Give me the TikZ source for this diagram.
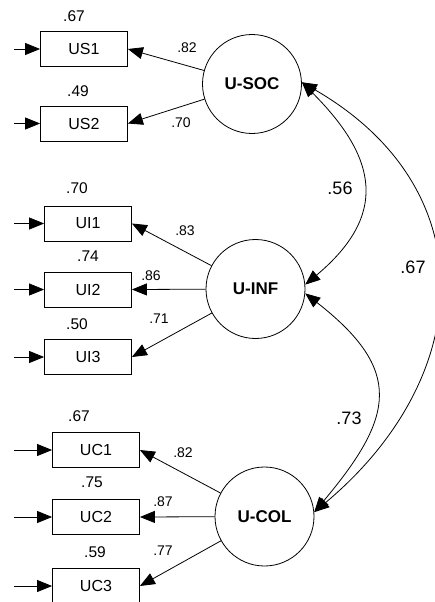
\documentclass[tikz,border=0pt]{standalone}
\usepackage{fontspec}
\setmainfont{Liberation Sans}
\usetikzlibrary{arrows.meta}
\begin{document}
\begin{tikzpicture}[x=1pt,y=1pt,
  every node/.style={inner sep=0pt},
  obs/.style={draw, line width=0.8pt, minimum width=87pt, minimum height=35pt, font=\fontsize{16}{18}\selectfont},
  lat/.style={draw, circle, line width=0.8pt, minimum size=99pt, font=\fontsize{17}{19}\selectfont\bfseries},
  rsq/.style={font=\fontsize{15.5}{17}\selectfont},
  lod/.style={font=\fontsize{14}{16}\selectfont},
  cov/.style={font=\fontsize{18}{20}\selectfont},
  arr/.style={line width=0.8pt, -{Triangle[length=15pt,width=12pt]}},
  darr/.style={line width=0.8pt, {Triangle[length=15pt,width=12pt]}-{Triangle[length=15pt,width=12pt]}}]
\clip (0,0) rectangle (435,-602);
\fill[white] (0,0) rectangle (435,-602);

% latent variables
\node[lat] (soc) at (252,-84) {U-SOC};
\node[lat] (inf) at (255.5,-289) {U-INF};
\node[lat] (col) at (264.5,-516.5) {U-COL};

% observed variables
\node[obs] (us1) at (84,-49) {US1};
\node[obs] (us2) at (84,-123.5) {US2};
\node[obs] (ui1) at (88,-223.5) {UI1};
\node[obs] (ui2) at (88,-289.5) {UI2};
\node[obs] (ui3) at (88,-357) {UI3};
\node[obs] (uc1) at (96,-450) {UC1};
\node[obs] (uc2) at (96,-517) {UC2};
\node[obs] (uc3) at (96,-586) {UC3};

% free ends of error arrows
\coordinate (e1) at (14,-49);
\coordinate (e2) at (14,-123.5);
\coordinate (e3) at (14,-223.5);
\coordinate (e4) at (14,-289.5);
\coordinate (e5) at (14,-357);
\coordinate (e6) at (14,-450);
\coordinate (e7) at (14,-517);
\coordinate (e8) at (14,-586);

\draw[arr] (e1) -- (us1.west);
\draw[arr] (e2) -- (us2.west);
\draw[arr] (e3) -- (ui1.west);
\draw[arr] (e4) -- (ui2.west);
\draw[arr] (e5) -- (ui3.west);
\draw[arr] (e6) -- (uc1.west);
\draw[arr] (e7) -- (uc2.west);
\draw[arr] (e8) -- (uc3.west);

% loadings
\draw[arr] (soc) -- (us1.east);
\draw[arr] (soc) -- (us2.east);
\draw[arr] (inf) -- (ui1.east);
\draw[arr] (inf) -- (ui2.east);
\draw[arr] (inf) -- (ui3.east);
\draw[arr] (col) -- (uc1.east);
\draw[arr] (col) -- (uc2.east);
\draw[arr] (col) -- (uc3.east);

% covariances
\draw[darr] (soc.2) .. controls +(-45:108) and +(40:108) .. (inf.5);
\draw[darr] (inf.-5) .. controls +(-38:125) and +(50:125) .. (col.5);
\draw[darr] (soc.2) .. controls +(-30:212) and +(40:212) .. (col.5);

% squared multiple correlations
\node[rsq] (r1) at (74,-16) {.67};
\node[rsq] (r2) at (78,-91) {.49};
\node[rsq] (r3) at (77,-188) {.70};
\node[rsq] (r4) at (88,-256) {.74};
\node[rsq] (r5) at (77,-324) {.50};
\node[rsq] (r6) at (79,-416) {.67};
\node[rsq] (r7) at (92,-482) {.75};
\node[rsq] (r8) at (95,-552) {.59};

% loading labels
\node[lod] (l1) at (187,-48) {.82};
\node[lod] (l2) at (181,-123) {.70};
\node[lod] (l3) at (185,-231) {.83};
\node[lod] (l4) at (151,-276) {.86};
\node[lod] (l5) at (159,-319) {.71};
\node[lod] (l6) at (183,-453) {.82};
\node[lod] (l7) at (163,-502) {.87};
\node[lod] (l8) at (163,-551) {.77};

% covariance labels
\node[cov] (c1) at (340,-188) {.56};
\node[cov] (c2) at (413,-267) {.67};
\node[cov] (c3) at (349,-418) {.73};
\end{tikzpicture}
\end{document}
